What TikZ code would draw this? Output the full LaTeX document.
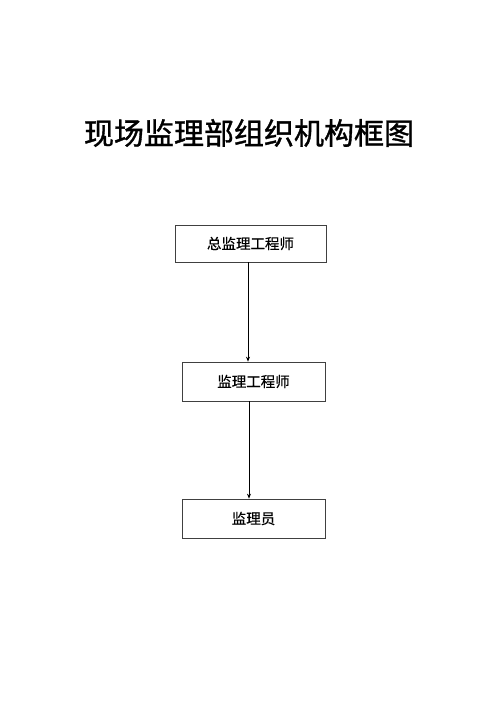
\documentclass[tikz,border=0pt]{standalone}
\usepackage{fontspec}
\newfontfamily\cjk{Noto Sans CJK SC}
\newfontfamily\cjkt{Noto Sans CJK SC}[FakeBold=1.2]
\newfontfamily\cjkm{Noto Sans CJK SC}[FakeBold=0.6]
\usetikzlibrary{arrows.meta}
\begin{document}
\begin{tikzpicture}[x=1pt,y=-1pt,
  boxnode/.style={draw=black!75,line width=0.7pt,inner sep=0pt,font=\cjkm\fontsize{14.5}{16}\selectfont},
  arr/.style={draw=black,line width=0.7pt,-{Stealth[length=5pt,width=4pt]}}]
\useasboundingbox (0,0) rectangle (500,707);
\node[font=\cjkt\fontsize{30}{33}\selectfont] (title) at (249,133) {现场监理部组织机构框图};
\node[boxnode,minimum width=151pt,minimum height=37pt] (b1) at (250.5,243.5) {总监理工程师};
\node[boxnode,minimum width=143pt,minimum height=39pt] (b2) at (253.5,381.5) {监理工程师};
\node[boxnode,minimum width=143pt,minimum height=39pt] (b3) at (253.5,518.5) {监理员};
\coordinate (ax1) at (248,0);
\coordinate (ax2) at (249,0);
\draw[arr] (b1.south -| ax1) -- (b2.north -| ax1);
\draw[arr] (b2.south -| ax2) -- (b3.north -| ax2);
\end{tikzpicture}
\end{document}
